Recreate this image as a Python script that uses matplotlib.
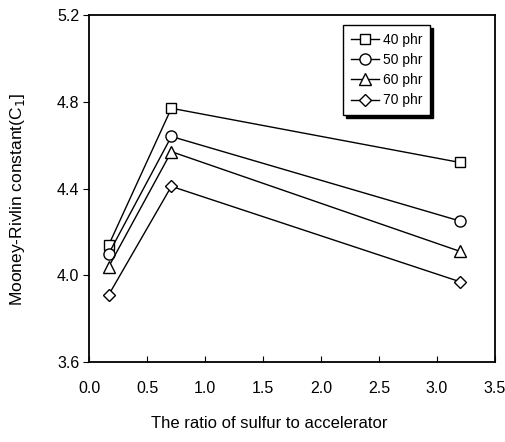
import matplotlib
matplotlib.use("Agg")
import matplotlib.pyplot as plt

x = [0.17, 0.71, 3.2]
labels = ["40 phr", "50 phr", "60 phr", "70 phr"]
markers = ["s", "o", "^", "D"]
y40 = [4.14, 4.77, 4.52]
y50 = [4.10, 4.64, 4.25]
y60 = [4.04, 4.57, 4.11]
y70 = [3.91, 4.41, 3.97]
series = [y40, y50, y60, y70]
xticks = [0.0, 0.5, 1.0, 1.5, 2.0, 2.5, 3.0, 3.5]
yticks = [3.6, 4.0, 4.4, 4.8, 5.2]

plt.rcParams['font.family'] = ['Liberation Sans', 'DejaVu Sans']
fig = plt.figure(figsize=(5.06, 4.42), dpi=100)
ax = fig.add_axes([0.176, 0.181, 0.802, 0.785])
msz = [7, 8, 8, 6.5]
for ys, lab, m, s in zip(series, labels, markers, msz):
    ax.plot(x, ys, color='black', lw=1.0, marker=m, markersize=s,
            markerfacecolor='white', markeredgecolor='black', markeredgewidth=1.0,
            label=lab)
ax.set_xlim(0, 3.5)
ax.set_ylim(3.6, 5.2)
ax.set_xticks(xticks)
ax.set_xticklabels([f"{v:.1f}" for v in xticks])
ax.set_yticks(yticks)
ax.set_yticklabels([f"{v:.1f}" for v in yticks])
ax.tick_params(axis='x', direction='in', length=4, labelsize=11.5, pad=14)
ax.tick_params(axis='y', direction='out', length=4, labelsize=11.5, pad=3)
for sp in ax.spines.values():
    sp.set_linewidth(1.3)
ax.set_xlabel("The ratio of sulfur to accelerator", fontsize=12, va='center')
ax.xaxis.set_label_coords(0.443, -0.176)
ax.set_ylabel("Mooney-Rivlin constant(C$_1$]", fontsize=12.5, va='center')
ax.yaxis.set_label_coords(-0.177, 0.467)
leg = ax.legend(loc='upper right', bbox_to_anchor=(0.84, 0.971), borderaxespad=0,
                frameon=True, fancybox=False,
                shadow={'color': 'black', 'alpha': 1.0},
                edgecolor='black', fontsize=10, handlelength=2.0,
                handletextpad=0.3, labelspacing=0.45, borderpad=0.55, numpoints=1)
leg.get_frame().set_linewidth(1.0)
fig.savefig("out.png", dpi=100)
